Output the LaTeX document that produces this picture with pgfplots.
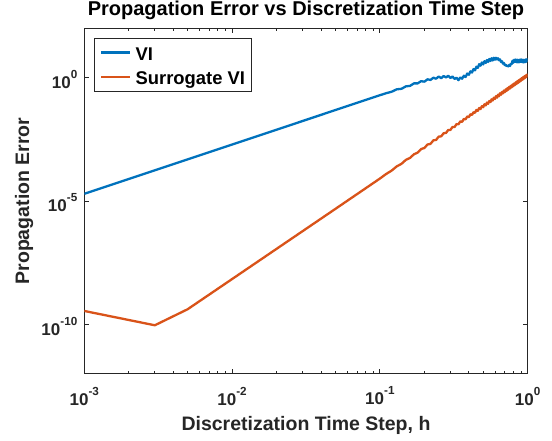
\documentclass[border=0pt]{standalone}
\usepackage{fontspec}
\setmainfont{Liberation Sans}
\usepackage{pgfplots}
\pgfplotsset{compat=1.18}
\definecolor{axcol}{HTML}{262626}
\definecolor{c1}{HTML}{0072BD}
\definecolor{c2}{HTML}{D95319}
\newcommand{\tl}[1]{\bfseries 10\raisebox{10bp}{\fontsize{11.7bp}{12bp}\selectfont\bfseries #1}}
\begin{document}
\begin{tikzpicture}
\path[use as bounding box] (-84.3bp,-67.4bp) rectangle (467.7bp,373.6bp);
\begin{axis}[
  at={(0,0)}, anchor=south west,
  scale only axis, width=443.4bp, height=345.2bp,
  xmode=log, ymode=log,
  xmin=1e-3, xmax=1, ymin=1e-12, ymax=1e2,
  axis line style={draw=axcol, line width=0.8bp},
  every tick/.style={draw=axcol, line width=0.8bp},
  tick align=inside,
  xtick pos=both, ytick pos=both,
  xticklabel pos=lower, yticklabel pos=left,
  major tick length=5bp, minor tick length=3bp,
  xtick={0.001,0.01,0.1,1},
  xticklabels={\tl{-3},\tl{-2},\tl{-1},\tl{0}},
  minor xtick={0.002,0.003,0.004,0.005,0.006,0.007,0.008,0.009,0.02,0.03,0.04,0.05,0.06,0.07,0.08,0.09,0.2,0.3,0.4,0.5,0.6,0.7,0.8,0.9},
  ytick={1e-10,1e-5,1},
  yticklabels={\tl{-10},\tl{-5},\tl{0}},
  xticklabel style={font=\fontsize{17bp}{17bp}\selectfont\bfseries, text=axcol, anchor=north, inner sep=0pt, yshift=-13.1bp},
  yticklabel style={font=\fontsize{17bp}{17bp}\selectfont\bfseries, text=axcol, anchor=east, inner sep=0pt, xshift=-6.8bp, yshift=-1.8bp},
  title={Propagation Error vs Discretization Time Step},
  title style={font=\fontsize{20bp}{20bp}\selectfont\bfseries, at={(axis description cs:0.5,1.0188)}, anchor=base, inner sep=0pt, text=black},
  xlabel={Discretization Time Step, h},
  xlabel style={font=\fontsize{19.5bp}{20bp}\selectfont\bfseries, at={(axis description cs:0.5,-0.1654)}, anchor=base, inner sep=0pt, text=axcol},
  ylabel={Propagation Error},
  ylabel style={font=\fontsize{19.5bp}{20bp}\selectfont\bfseries, at={(axis description cs:-0.1247,0.5)}, anchor=base, inner sep=0pt, rotate=0, text=axcol},
  legend cell align=left,
  legend image code/.code={\draw[#1, line width=2.3bp] (0bp,0bp) -- (29bp,0bp);},
  legend style={at={(axis description cs:0,1)}, anchor=north west, xshift=9.7bp, yshift=-9.6bp,
    draw=axcol, line width=0.6bp, fill=white,
    font=\fontsize{18.4bp}{20bp}\selectfont\bfseries,
    inner xsep=6bp, inner ysep=6.8bp, row sep=9.4bp, column sep=4bp,
    nodes={inner sep=0pt, text height=15bp, text depth=0bp}},
]
\addplot[c1, line width=2.3bp, line join=round] coordinates {
(0.001,1.95e-5) (0.003,1.754e-4) (0.005,4.875e-4) (0.01,1.95e-3) (0.02,7.80e-3) (0.05,4.875e-2) (0.10,0.195)
(0.11,0.2344) (0.12,0.2692) (0.13,0.3388) (0.14,0.3548) (0.15,0.4467) (0.16,0.4677) (0.17,0.5888) (0.18,0.5888) (0.19,0.7244) (0.20,0.6918)
(0.21,0.861) (0.22,0.8128) (0.23,1.000) (0.24,0.9120) (0.25,1.122) (0.26,0.9550) (0.27,1.175) (0.28,1.023) (0.29,1.202) (0.30,0.9772)
(0.31,1.122) (0.32,0.8913) (0.33,1.000) (0.34,0.7943) (0.35,1.023) (0.36,0.9120) (0.37,1.202) (0.38,1.072) (0.39,1.479) (0.40,1.318)
(0.41,1.820) (0.42,1.622) (0.43,2.239) (0.44,1.995) (0.45,2.818) (0.46,2.512) (0.47,3.548) (0.48,3.090) (0.49,4.169) (0.50,3.467)
(0.51,4.677) (0.52,3.981) (0.53,5.248) (0.54,4.365) (0.55,5.754) (0.56,4.786) (0.57,6.166) (0.58,5.012) (0.59,6.457) (0.60,5.370)
(0.61,6.457) (0.62,5.495) (0.63,6.166) (0.64,5.129) (0.65,5.495) (0.66,4.365) (0.67,4.677) (0.68,3.715) (0.69,3.981) (0.70,3.236)
(0.71,3.388) (0.72,2.951) (0.73,3.090) (0.74,2.884) (0.75,3.311) (0.76,3.020) (0.77,3.715) (0.78,3.631) (0.79,4.898) (0.80,4.074)
(0.81,5.370) (0.82,4.365) (0.83,5.495) (0.84,4.266) (0.85,5.370) (0.86,4.169) (0.87,5.248) (0.88,4.266) (0.89,5.495) (0.90,4.365)
(0.91,5.495) (0.92,4.266) (0.93,5.370) (0.94,4.169) (0.95,5.248) (0.96,4.266) (0.97,5.495) (0.98,4.467) (0.99,5.623) (1.00,5.248)
};
\addlegendentry{VI}
\addplot[c2, line width=2.3bp, line join=round] coordinates {
(0.001,3.47e-10) (0.003,9.12e-11) (0.005,4.07e-10) (0.007,1.60e-9) (0.009,4.45e-9) (0.015,3.56e-8) (0.025,2.85e-7) (0.05,4.79e-6) (0.10,8.13e-5)
(0.11,1.236e-4) (0.12,1.706e-4) (0.13,2.535e-4) (0.14,3.221e-4) (0.15,4.667e-4) (0.16,5.585e-4) (0.17,7.870e-4) (0.18,9.141e-4) (0.19,1.279e-3) (0.20,1.409e-3)
(0.21,1.959e-3) (0.22,2.070e-3) (0.23,2.884e-3) (0.24,2.992e-3) (0.25,4.093e-3) (0.26,4.198e-3) (0.27,5.623e-3) (0.28,5.715e-3) (0.29,7.586e-3) (0.30,7.638e-3)
(0.31,1.005e-2) (0.32,1.002e-2) (0.33,1.318e-2) (0.34,1.288e-2) (0.35,1.698e-2) (0.36,1.622e-2) (0.37,2.143e-2) (0.38,2.046e-2) (0.39,2.673e-2) (0.40,2.529e-2)
(0.41,3.311e-2) (0.42,3.105e-2) (0.43,4.018e-2) (0.44,3.767e-2) (0.45,4.932e-2) (0.46,4.519e-2) (0.47,5.916e-2) (0.48,5.370e-2) (0.49,7.047e-2) (0.50,6.397e-2)
(0.51,8.395e-2) (0.52,7.534e-2) (0.53,9.795e-2) (0.54,8.790e-2) (0.55,0.1143) (0.56,0.1028) (0.57,0.1334) (0.58,0.1189) (0.59,0.1542) (0.60,0.1374)
(0.61,0.1786) (0.62,0.1552) (0.63,0.2046) (0.64,0.1778) (0.65,0.2344) (0.66,0.2037) (0.67,0.2655) (0.68,0.2312) (0.69,0.3013) (0.70,0.2594)
(0.71,0.3381) (0.72,0.2911) (0.73,0.3802) (0.74,0.3273) (0.75,0.4266) (0.76,0.3673) (0.77,0.4742) (0.78,0.4083) (0.79,0.5333) (0.80,0.4550)
(0.81,0.5875) (0.82,0.5058) (0.83,0.6531) (0.84,0.5572) (0.85,0.7194) (0.86,0.6138) (0.87,0.7998) (0.88,0.6761) (0.89,0.8730) (0.90,0.7447)
(0.91,0.9616) (0.92,0.8204) (0.93,1.050) (0.94,0.8954) (0.95,1.156) (0.96,0.975) (0.97,1.245) (0.98,1.076) (0.99,1.327) (1.00,1.288)
};
\addlegendentry{Surrogate VI}
\end{axis}
\end{tikzpicture}
\end{document}
